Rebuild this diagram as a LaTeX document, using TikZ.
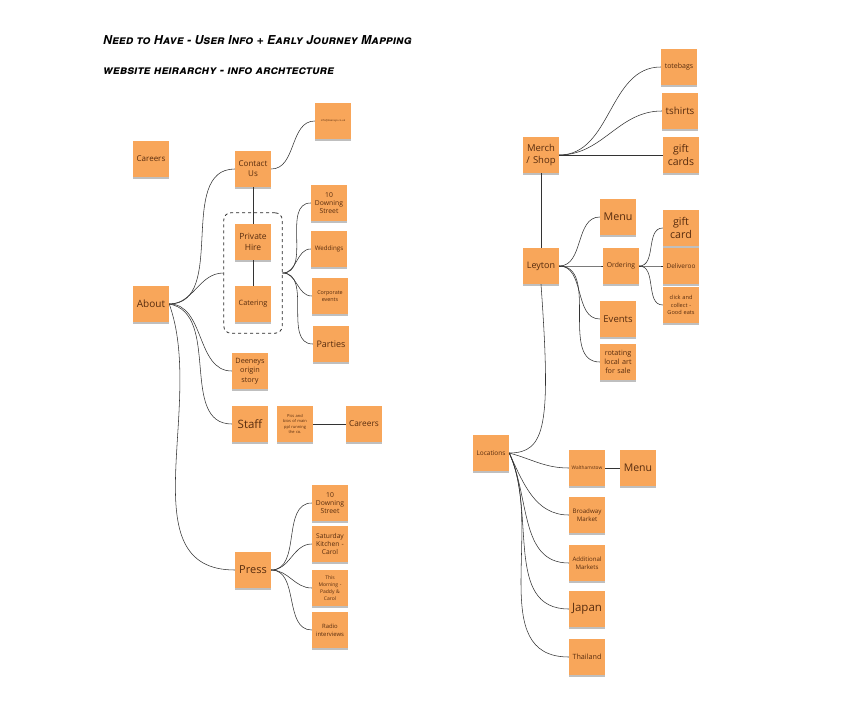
\documentclass[tikz,border=0pt]{standalone}
\usepackage{fontspec}
\setmainfont{Open Sans}
\newfontfamily\markerfont[Letters=SmallCaps]{TeX Gyre Heros}
\usepackage{tikz}
\usetikzlibrary{calc,shadows,fit,positioning}

\definecolor{stickyorange}{RGB}{248,166,90}
\definecolor{stickytext}{RGB}{88,44,14}

\begin{document}
\begin{tikzpicture}[x=1pt,y=1pt]

\tikzset{
  sticky/.style={rectangle, fill=stickyorange, text=stickytext,
                 minimum width=36pt, minimum height=36pt, inner sep=1pt,
                 align=center, text width=34pt,
                 drop shadow={shadow xshift=0.4pt, shadow yshift=-1.6pt,
                              opacity=0.25, fill=black}},
  sz/.style 2 args={font=\fontsize{#1}{#2}\selectfont},
  branch/.style={black!80, line width=0.55pt},
  groupbox/.style={draw=black!85, dashed, line width=0.8pt,
                   rounded corners=7pt, inner sep=11pt},
  heading/.style={anchor=west, inner sep=0pt, text=black,
                  font=\markerfont\bfseries\itshape\fontsize{12.3}{14}\selectfont}
}

% Canvas
\useasboundingbox (0,0) rectangle (857,-725);

% Titles
\node[heading] (title) at (103,-40) {Need to Have - User Info + Early Journey Mapping};
\node[heading] (subtitle) at (103,-71) {website heirarchy - info archtecture};

% About branch
\node[sticky, sz={8}{9.5}] (careersA) at (151,-159) {Careers};
\node[sticky, sz={10}{12}] (about) at (151,-304) {About};
\node[sticky, sz={8}{10}] (contact) at (253,-169) {Contact\\Us};
\node[sticky, sz={2.6}{3}] (email) at (333,-121) {info@deeneys.co.uk};
\node[sticky, sz={8.5}{11}] (private) at (253,-242) {Private\\Hire};
\node[sticky, sz={7.3}{9}] (catering) at (253,-304) {Catering};
\node[groupbox, fit=(private)(catering)] (hirebox) {};
\node[sticky, sz={6.8}{8.4}] (downingA) at (329,-203) {10\\Downing\\Street};
\node[sticky, sz={6.2}{8}] (weddings) at (329,-249) {Weddings};
\node[sticky, sz={5.4}{7}] (corporate) at (330,-296) {Corporate\\events};
\node[sticky, sz={9}{11}] (parties) at (331,-344) {Parties};
\node[sticky, sz={7.3}{9.3}] (origin) at (250,-371) {Deeneys\\origin\\story};
\node[sticky, sz={11.5}{13}] (staff) at (250,-424) {Staff};
\node[sticky, sz={4}{5.4}] (pics) at (295,-424) {Pics and\\bios of main\\ppl running\\the co.};
\node[sticky, sz={8.3}{10}] (careersB) at (364,-424) {Careers};
\node[sticky, sz={11}{13}] (press) at (253,-570) {Press};
\node[sticky, sz={6.8}{8.4}] (downingB) at (330,-503) {10\\Downing\\Street};
\node[sticky, sz={6.7}{8.4}] (saturday) at (330,-544) {Saturday\\Kitchen -\\Carol};
\node[sticky, sz={5}{7}] (morning) at (330,-588) {This\\Morning -\\Paddy \&\\Carol};
\node[sticky, sz={5.9}{7.8}] (radio) at (330,-630) {Radio\\interviews};

% Shop and locations branch
\node[sticky, sz={9.5}{11.5}] (merch) at (541,-155) {Merch\\/ Shop};
\node[sticky, sz={7}{9}] (totebags) at (679,-67) {totebags};
\node[sticky, sz={9.8}{12}] (tshirts) at (680,-111) {tshirts};
\node[sticky, sz={10.5}{13}] (giftcards) at (681,-155) {gift\\cards};
\node[sticky, sz={9}{11}] (leyton) at (541,-266) {Leyton};
\node[sticky, sz={10.7}{13}] (menuA) at (618,-217) {Menu};
\node[sticky, sz={6.8}{8.4}] (ordering) at (621,-266) {Ordering};
\node[sticky, sz={10.7}{13}] (giftcard) at (681,-228) {gift\\card};
\node[sticky, sz={6.5}{8}] (deliveroo) at (681,-266) {Deliveroo};
\node[sticky, sz={5.6}{7.6}] (click) at (681,-305) {click and\\collect -\\Good eats};
\node[sticky, sz={9.5}{11.5}] (events) at (618,-319) {Events};
\node[sticky, sz={7.2}{9.2}] (rotating) at (618,-362) {rotating\\local art\\for sale};
\node[sticky, sz={6.5}{8}] (locations) at (491,-453) {Locations};
\node[sticky, sz={4.8}{6}] (walthamstow) at (587,-468) {Walthamstow};
\node[sticky, sz={10.5}{13}] (menuB) at (638,-468) {Menu};
\node[sticky, sz={6.2}{8}] (broadway) at (587,-515) {Broadway\\Market};
\node[sticky, sz={6.1}{8}] (markets) at (587,-563) {Additional\\Markets};
\node[sticky, sz={11.5}{13}] (japan) at (587,-609) {Japan};
\node[sticky, sz={7.2}{9}] (thailand) at (587,-657) {Thailand};

% Lines
\draw[branch] (about.east) to[out=0, in=180] (contact.west);
\draw[branch] (about.east) to[out=0, in=180] (hirebox.west);
\draw[branch] (about.east) to[out=0, in=180] (origin.west);
\draw[branch] (about.east) to[out=-10, in=180] (staff.west);
\draw[branch] (about.east) to[out=-70, in=180] (press.west);
\draw[branch] (contact.east) to[out=0, in=180] (email.west);
\draw[branch] (contact.south) -- (private.north);
\draw[branch] (private.south) -- (catering.north);
\foreach \leaf in {downingA, weddings, corporate, parties}
  \draw[branch] (hirebox.east) to[out=0, in=180] (\leaf.west);
\draw[branch] (pics.east) -- (careersB.west);
\foreach \leaf in {downingB, saturday, morning, radio}
  \draw[branch] (press.east) to[out=0, in=180] (\leaf.west);

\draw[branch] (merch.east) to[out=0, in=180] (totebags.west);
\draw[branch] (merch.east) to[out=0, in=180] (tshirts.west);
\draw[branch] (merch.east) -- (giftcards.west);
\draw[branch] (merch.south) -- (leyton.north);
\foreach \leaf in {menuA, ordering, events, rotating}
  \draw[branch] (leyton.east) to[out=0, in=180] (\leaf.west);
\foreach \leaf in {giftcard, deliveroo, click}
  \draw[branch] (ordering.east) to[out=0, in=180] (\leaf.west);
\draw[branch] (leyton.south) .. controls (551,-425) and (546,-453) .. (locations.east);
\draw[branch] (locations.east) to[out=-15, in=180] (walthamstow.west);
\foreach \leaf in {broadway, markets, japan, thailand}
  \draw[branch] (locations.east) to[out=-65, in=180] (\leaf.west);
\draw[branch] (walthamstow.east) -- (menuB.west);

\end{tikzpicture}
\end{document}
